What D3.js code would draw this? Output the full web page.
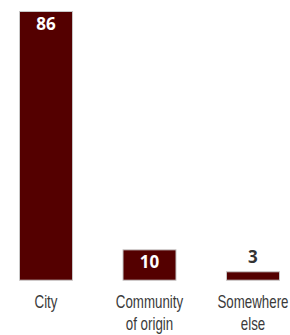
<!DOCTYPE html>
<html><head><meta charset="utf-8">
<script src="https://cdn.jsdelivr.net/npm/d3@7"></script>
<style>body{margin:0;background:#fff}svg{display:block}</style>
</head><body>
<svg id="c" width="290" height="335"></svg>
<script>
const categories = [["City"], ["Community", "of origin"], ["Somewhere", "else"]];
const keys = ["City", "Community of origin", "Somewhere else"];
const values = [86, 10, 3];

const svg = d3.select("#c");
const x = d3.scaleBand().domain(keys).range([19, 280]).paddingInner(0.478).paddingOuter(0);
const y = d3.scaleLinear().domain([0, 86]).range([280.7, 11]);

svg.selectAll("rect.bar").data(values).enter().append("rect")
  .attr("class", "bar")
  .attr("x", (d, i) => x(keys[i]) + 0.5)
  .attr("y", d => y(d) + 0.5)
  .attr("width", x.bandwidth() - 1)
  .attr("height", d => y(0) - y(d) - 1)
  .attr("fill", "#540000")
  .attr("stroke", "#c8c8c8")
  .attr("stroke-width", 1);

svg.selectAll("text.val").data(values).enter().append("text")
  .attr("class", "val")
  .attr("x", (d, i) => x(keys[i]) + x.bandwidth() / 2)
  .attr("y", d => (y(0) - y(d) > 25) ? y(d) + 18.5 : y(d) - 8)
  .attr("text-anchor", "middle")
  .attr("font-family", "'Open Sans', sans-serif")
  .attr("font-weight", 700)
  .attr("font-size", 17)
  .attr("fill", d => (y(0) - y(d) > 25) ? "#fff" : "#333")
  .text(d => d);

const g = svg.selectAll("g.cat").data(categories).enter().append("g")
  .attr("class", "cat")
  .attr("transform", (d, i) => `translate(${x(keys[i]) + x.bandwidth() / 2},308) scale(0.74,1)`);
const t = g.append("text")
  .attr("text-anchor", "middle")
  .attr("font-family", "'Liberation Sans', Arial, sans-serif")
  .attr("font-size", 18)
  .attr("fill", "#3a3a3a");
t.selectAll("tspan").data(d => d).enter().append("tspan")
  .attr("x", 0)
  .attr("dy", (d, i) => i === 0 ? 0 : 22)
  .text(d => d);
</script>
</body></html>
